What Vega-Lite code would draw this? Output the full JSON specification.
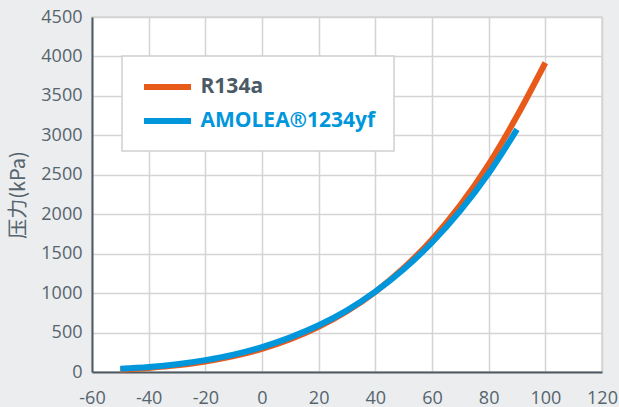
{
  "$schema": "https://vega.github.io/schema/vega-lite/v6.json",
  "width": 510,
  "height": 355,
  "autosize": {"type": "none"},
  "padding": {"left": 92, "top": 17, "right": 17, "bottom": 35},
  "background": "#ebedef",
  "config": {
    "view": {"fill": "#ffffff", "stroke": "#d4d4d4", "strokeWidth": 1.5},
    "font": "Open Sans"
  },
  "data": {
    "values": [
      {"t": -50, "p": 29, "s": "R134a"},
      {"t": -40, "p": 52, "s": "R134a"},
      {"t": -30, "p": 84, "s": "R134a"},
      {"t": -20, "p": 133, "s": "R134a"},
      {"t": -10, "p": 201, "s": "R134a"},
      {"t": 0, "p": 293, "s": "R134a"},
      {"t": 10, "p": 415, "s": "R134a"},
      {"t": 20, "p": 572, "s": "R134a"},
      {"t": 30, "p": 770, "s": "R134a"},
      {"t": 40, "p": 1017, "s": "R134a"},
      {"t": 50, "p": 1318, "s": "R134a"},
      {"t": 60, "p": 1681, "s": "R134a"},
      {"t": 70, "p": 2116, "s": "R134a"},
      {"t": 80, "p": 2633, "s": "R134a"},
      {"t": 90, "p": 3244, "s": "R134a"},
      {"t": 100, "p": 3920, "s": "R134a"},
      {"t": -50, "p": 40, "s": "AMOLEA®1234yf"},
      {"t": -40, "p": 63, "s": "AMOLEA®1234yf"},
      {"t": -30, "p": 99, "s": "AMOLEA®1234yf"},
      {"t": -20, "p": 151, "s": "AMOLEA®1234yf"},
      {"t": -10, "p": 221, "s": "AMOLEA®1234yf"},
      {"t": 0, "p": 316, "s": "AMOLEA®1234yf"},
      {"t": 10, "p": 439, "s": "AMOLEA®1234yf"},
      {"t": 20, "p": 592, "s": "AMOLEA®1234yf"},
      {"t": 30, "p": 782, "s": "AMOLEA®1234yf"},
      {"t": 40, "p": 1018, "s": "AMOLEA®1234yf"},
      {"t": 50, "p": 1302, "s": "AMOLEA®1234yf"},
      {"t": 60, "p": 1642, "s": "AMOLEA®1234yf"},
      {"t": 70, "p": 2045, "s": "AMOLEA®1234yf"},
      {"t": 80, "p": 2519, "s": "AMOLEA®1234yf"},
      {"t": 90, "p": 3075, "s": "AMOLEA®1234yf"}
    ]
  },
  "mark": {"type": "line", "strokeWidth": 6, "interpolate": "monotone"},
  "encoding": {
    "x": {
      "field": "t", "type": "quantitative",
      "scale": {"domain": [-60, 120], "nice": false, "zero": false},
      "axis": {
        "title": null, "values": [-60, -40, -20, 0, 20, 40, 60, 80, 100, 120],
        "labelExpr": "'' + datum.value",
        "grid": true, "gridColor": "#d4d4d4", "gridWidth": 1.5,
        "domainColor": "#4f5b64", "domainWidth": 2, "ticks": false,
        "labelFontSize": 18, "labelColor": "#56646d", "labelPadding": 17,
        "labelFlush": false
      }
    },
    "y": {
      "field": "p", "type": "quantitative",
      "scale": {"domain": [0, 4500], "nice": false},
      "axis": {
        "title": "压力(kPa)", "titleFont": "Noto Sans CJK SC", "titleFontSize": 20,
        "titleFontWeight": "normal", "titleColor": "#56646d", "titlePadding": 12,
        "values": [0, 500, 1000, 1500, 2000, 2500, 3000, 3500, 4000, 4500],
        "labelExpr": "'' + datum.value",
        "grid": true, "gridColor": "#d4d4d4", "gridWidth": 1.5,
        "domainColor": "#4f5b64", "domainWidth": 2, "ticks": false,
        "labelFontSize": 18, "labelColor": "#56646d", "labelPadding": 10,
        "labelFlush": false
      }
    },
    "color": {
      "field": "s", "type": "nominal",
      "scale": {"domain": ["R134a", "AMOLEA®1234yf"], "range": ["#e85a1a", "#0096dc"]},
      "legend": {
        "title": null, "orient": "none", "legendX": 30, "legendY": 39,
        "fillColor": "#ffffff", "strokeColor": "#d0d0d0", "padding": 18,
        "symbolType": "M-2.35,0H2.35", "symbolSize": 400, "symbolStrokeWidth": 6,
        "symbolOffset": 14.5,
        "labelFontSize": 21, "labelFontWeight": "bold", "labelOffset": 20,
        "rowPadding": 9, "labelLimit": 400,
        "encode": {
          "labels": {"update": {"fill": {"signal": "datum.value === 'R134a' ? '#4a5a66' : '#0096dc'"}}},
          "legend": {"update": {"strokeWidth": {"value": 1.5}}}
        }
      }
    }
  }
}
